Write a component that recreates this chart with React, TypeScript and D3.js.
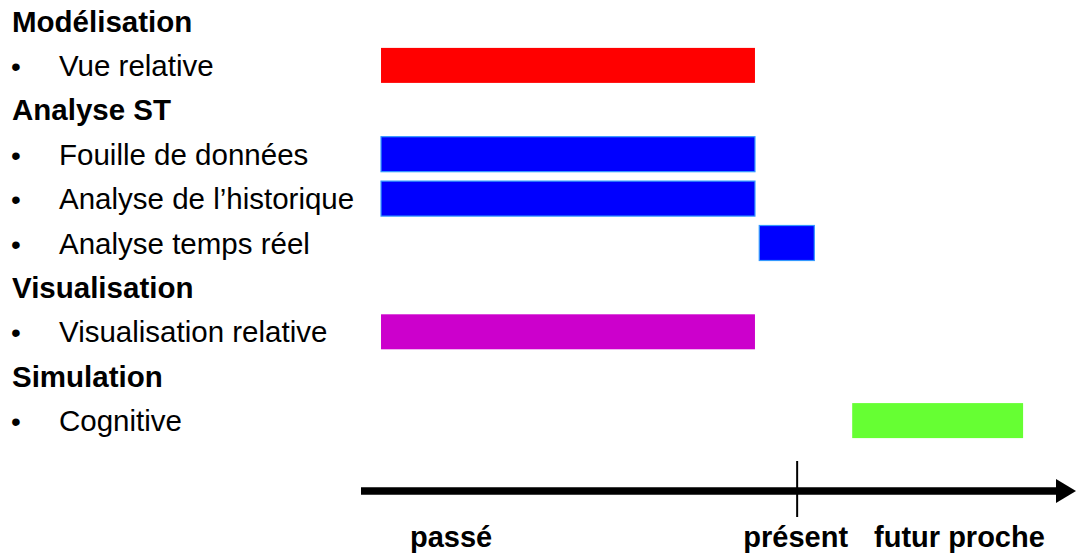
import React from "react";
import * as d3 from "d3";

// Rows of the left-hand list (kind: heading or bullet item)
const rowLabels = [
  "Modélisation",
  "Vue relative",
  "Analyse ST",
  "Fouille de données",
  "Analyse de l\u2019historique",
  "Analyse temps réel",
  "Visualisation",
  "Visualisation relative",
  "Simulation",
  "Cognitive",
];
const rowIsHeading = [true, false, true, false, false, false, true, false, true, false];

// Bars: row index, start and end on the time axis (0 = axis start, 100 = arrow tip)
const barRows = [1, 3, 4, 5, 7, 9];
const barStart = [2.8, 2.8, 2.8, 55.7, 2.8, 68.7];
const barEnd = [55.1, 55.1, 55.1, 63.4, 55.1, 92.6];
const barColors = ["#ff0000", "#0000ff", "#0000ff", "#0000ff", "#cc00cc", "#66ff33"];
const barStrokes = ["none", "#3399ff", "#3399ff", "#3399ff", "none", "none"];

// Time axis
const presentValue = 61.0;
const axisLabels = ["passé", "présent", "futur proche"];
const axisLabelPos = [12.6, 60.8, 83.7];

const W = 1076;
const H = 557;
const FONT = "'Liberation Sans', Arial, Helvetica, sans-serif";

export default function App() {
  const x = d3.scaleLinear().domain([0, 100]).range([361, 1076]);
  const rowY = d3.scaleLinear().domain([0, 9]).range([31.5, 31.5 + 9 * 44.4]);
  const barH = 35;
  const axisY = 491;
  const fs = 29.5;

  const arrow = d3.path();
  arrow.moveTo(x(100), axisY);
  arrow.lineTo(x(100) - 20, axisY - 12);
  arrow.lineTo(x(100) - 20, axisY + 12);
  arrow.closePath();

  return (
    <svg
      width={W}
      height={H}
      style={{ position: "absolute", left: 0, top: 0, background: "#fff" }}
      fontFamily={FONT}
    >
      {rowLabels.map((label, i) =>
        rowIsHeading[i] ? (
          <text key={i} x={12} y={rowY(i)} fontSize={fs} fontWeight="bold" fill="#000">
            {label}
          </text>
        ) : (
          <g key={i}>
            <text x={11} y={rowY(i)} fontSize={28} fill="#000">
              {"\u2022"}
            </text>
            <text x={59} y={rowY(i)} fontSize={fs} fill="#000">
              {label}
            </text>
          </g>
        )
      )}

      {barRows.map((r, i) => (
        <rect
          key={i}
          x={x(barStart[i])}
          y={rowY(r) - 10.5 - barH / 2}
          width={x(barEnd[i]) - x(barStart[i])}
          height={barH}
          fill={barColors[i]}
          stroke={barStrokes[i]}
          strokeWidth={1.2}
        />
      ))}

      <line x1={x(0)} x2={x(100) - 18} y1={axisY} y2={axisY} stroke="#000" strokeWidth={7.5} />
      <path d={arrow.toString()} fill="#000" />
      <line
        x1={x(presentValue)}
        x2={x(presentValue)}
        y1={461}
        y2={517}
        stroke="#000"
        strokeWidth={2}
      />

      {axisLabels.map((l, i) => (
        <text
          key={i}
          x={x(axisLabelPos[i])}
          y={547}
          textAnchor="middle"
          fontSize={29}
          fontWeight="bold"
          fill="#000"
        >
          {l}
        </text>
      ))}
    </svg>
  );
}
